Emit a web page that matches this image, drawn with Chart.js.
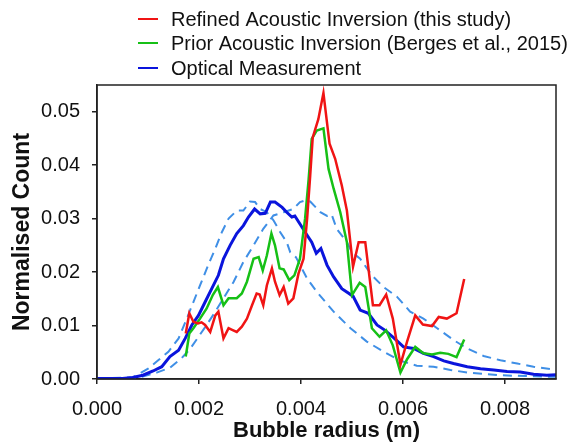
<!DOCTYPE html>
<html>
<head>
<meta charset="utf-8">
<script src="https://cdn.jsdelivr.net/npm/chart.js@4/dist/chart.umd.min.js"></script>
<style>
  html, body { margin: 0; padding: 0; background: #fff; }
  #wrap { width: 574px; height: 442px; }
</style>
</head>
<body>
<div id="wrap"><canvas id="chart" width="574" height="442"></canvas></div>
<script>
// ── data ────────────────────────────────────────────────────
const refinedX = [0.00174,0.00181,0.00189,0.00198,0.00205,0.00212,0.00222,0.00232,0.00238,0.00248,0.00258,0.00265,0.00274,0.00284,0.00294,0.00304,0.00313,0.00319,0.00326,0.00333,0.00343,0.00349,0.00358,0.00366,0.00375,0.00385,0.00395,0.00405,0.00412,0.00418,0.00423,0.00434,0.00444,0.00456,0.00467,0.0048,0.0049,0.00502,0.00513,0.00526,0.00541,0.00554,0.00567,0.0058,0.00595,0.00608,0.00624,0.00639,0.00657,0.0067,0.00686,0.00705,0.0072];
const refinedY = [0.0085,0.0123,0.0107,0.0104,0.0106,0.0101,0.0088,0.0119,0.0126,0.0076,0.0095,0.0092,0.0088,0.0098,0.0113,0.0138,0.016,0.0158,0.0138,0.0175,0.0207,0.0182,0.0157,0.0172,0.0141,0.0151,0.0197,0.0225,0.030,0.038,0.0452,0.0486,0.0535,0.044,0.0412,0.0362,0.0315,0.021,0.0256,0.0256,0.0138,0.0138,0.0158,0.0113,0.0027,0.007,0.0119,0.0102,0.0099,0.0116,0.0113,0.0123,0.0187];

const priorX = [0.00174,0.00181,0.00189,0.00202,0.00215,0.00227,0.00237,0.00248,0.00258,0.00274,0.00284,0.00294,0.00307,0.00317,0.00325,0.00333,0.00342,0.00349,0.00358,0.00366,0.00377,0.00387,0.00398,0.00408,0.00415,0.00421,0.00431,0.00444,0.00454,0.00464,0.00477,0.0049,0.005,0.00515,0.00526,0.00539,0.00554,0.00567,0.0058,0.00595,0.00608,0.00624,0.0064,0.00657,0.00673,0.00689,0.00705,0.0072];
const priorY = [0.0042,0.0085,0.0095,0.0113,0.0132,0.0157,0.0172,0.0138,0.0151,0.0151,0.016,0.0182,0.0225,0.0228,0.0203,0.0231,0.0272,0.025,0.0207,0.0205,0.0185,0.0194,0.0225,0.030,0.0374,0.0449,0.0465,0.0469,0.0393,0.0356,0.0312,0.0256,0.0157,0.018,0.0172,0.0095,0.0079,0.0091,0.0063,0.0012,0.0037,0.006,0.0048,0.0046,0.0049,0.0047,0.0041,0.0074];

const opticalX = [0,0.0005,0.0007,0.0009,0.0011,0.00127,0.00143,0.0016,0.00173,0.00186,0.00199,0.00212,0.00225,0.00238,0.00248,0.00261,0.00274,0.00287,0.00297,0.00309,0.0032,0.0033,0.0034,0.00349,0.00363,0.00372,0.00382,0.00388,0.00398,0.00412,0.00421,0.0043,0.00439,0.00451,0.00464,0.0048,0.00502,0.00516,0.00532,0.00549,0.00565,0.00582,0.00601,0.00621,0.0064,0.0066,0.0068,0.00699,0.00726,0.00752,0.00778,0.00804,0.0083,0.00856,0.00882,0.009];
const opticalY = [0.0001,0.0001,0.0003,0.0007,0.0015,0.0023,0.0042,0.0054,0.0076,0.0101,0.0119,0.0144,0.0169,0.0194,0.0225,0.025,0.0272,0.0287,0.0303,0.0318,0.0309,0.031,0.0331,0.0331,0.0321,0.0312,0.0303,0.0305,0.029,0.0269,0.0256,0.0235,0.0244,0.0213,0.0191,0.0169,0.0155,0.0129,0.0123,0.0101,0.0091,0.0077,0.006,0.0057,0.0048,0.0042,0.0034,0.0029,0.0023,0.0019,0.0017,0.0014,0.0013,0.0009,0.0007,0.0008];

const lowerBandX = [0,0.0007,0.00101,0.0012,0.0014,0.0016,0.00176,0.00189,0.00202,0.00218,0.00232,0.00245,0.00258,0.00274,0.00287,0.003,0.0031,0.0032,0.00333,0.00346,0.00359,0.00372,0.00379,0.0039,0.00412,0.00431,0.00464,0.00497,0.00529,0.00562,0.00595,0.00627,0.0066,0.00693,0.00726,0.00791,0.00856,0.009];
const lowerBandY = [0.0001,0.0003,0.002,0.0035,0.0051,0.0076,0.0113,0.0144,0.0175,0.0213,0.0244,0.0275,0.030,0.0315,0.0315,0.0332,0.0331,0.0318,0.0312,0.0297,0.0275,0.0256,0.0237,0.0228,0.0188,0.0163,0.0126,0.0095,0.007,0.0051,0.0034,0.0025,0.0023,0.0017,0.0012,0.0007,0.0005,0.0004];

const upperBandX = [0,0.0008,0.00117,0.00143,0.00166,0.00183,0.00199,0.00215,0.00232,0.00248,0.00268,0.00287,0.00307,0.00326,0.00346,0.00366,0.00385,0.00398,0.00408,0.00418,0.00438,0.00451,0.0046,0.0047,0.0049,0.005,0.00516,0.00539,0.00562,0.00588,0.00614,0.0064,0.00667,0.00699,0.00726,0.00758,0.00791,0.00824,0.00856,0.009];
const upperBandY = [0.0001,0.0002,0.0012,0.0021,0.0039,0.0057,0.0079,0.0101,0.0126,0.0151,0.0182,0.0219,0.025,0.0281,0.0306,0.0312,0.0318,0.0331,0.0334,0.0332,0.0312,0.0305,0.0308,0.0281,0.0256,0.0237,0.0225,0.0194,0.0172,0.0154,0.0126,0.0113,0.0095,0.0073,0.0057,0.0043,0.0035,0.0029,0.0023,0.0017];

const legendLabels = [
  'Refined Acoustic Inversion (this study)',
  'Prior Acoustic Inversion (Berges et al., 2015)',
  'Optical Measurement'
];

const FONT = "'Liberation Sans', Arial, sans-serif";
const RED = '#f01414', GREEN = '#16c016', BLUE = '#0a14dc', DASH = '#3f8fe6';

function pts(xs, ys) { return xs.map((x, i) => ({ x, y: ys[i] })); }

// frame + stacked legend
const framePlugin = {
  id: 'frame',
  afterDraw(chart) {
    const { ctx, chartArea: a } = chart;
    ctx.save();
    ctx.strokeStyle = '#222';
    ctx.lineWidth = 1.5;
    ctx.strokeRect(a.left, a.top, a.right - a.left, a.bottom - a.top);

    const rows = [19, 43, 68];
    ctx.font = '20px ' + FONT;
    ctx.textBaseline = 'middle';
    ctx.fillStyle = '#111';
    legendLabels.forEach((txt, i) => {
      const ds = chart.data.datasets[i];
      ctx.strokeStyle = ds.borderColor;
      ctx.lineWidth = 2;
      ctx.beginPath();
      ctx.moveTo(138, rows[i]);
      ctx.lineTo(158, rows[i]);
      ctx.stroke();
      ctx.fillText(txt, 171, rows[i] + 1);
    });
    ctx.restore();
  }
};

const lineDs = (data, color, width, dash) => ({
  data, borderColor: color, borderWidth: width, borderDash: dash || [],
  pointRadius: 0, tension: 0, fill: false
});

new Chart(document.getElementById('chart').getContext('2d'), {
  type: 'line',
  data: {
    datasets: [
      lineDs(pts(refinedX, refinedY), RED, 2.5),
      lineDs(pts(priorX, priorY), GREEN, 2.5),
      lineDs(pts(opticalX, opticalY), BLUE, 3),
      lineDs(pts(lowerBandX, lowerBandY), DASH, 2, [9, 6]),
      lineDs(pts(upperBandX, upperBandY), DASH, 2, [9, 6])
    ]
  },
  options: {
    responsive: false,
    animation: false,
    layout: { padding: { top: 85, right: 18, left: 0, bottom: 0 } },
    plugins: { legend: { display: false }, tooltip: { enabled: false } },
    scales: {
      x: {
        type: 'linear', min: 0, max: 0.009,
        afterFit: s => { s.height = 63; },
        ticks: { stepSize: 0.002, includeBounds: false, padding: 13, color: '#111', maxRotation: 0,
                 font: { family: FONT, size: 20 }, callback: v => v.toFixed(3) },
        grid: { drawOnChartArea: false, tickLength: 5, color: '#222', lineWidth: 1.5 },
        border: { display: true, color: '#222', width: 1.5 },
        title: { display: true, text: 'Bubble radius (m)', color: '#111', padding: { top: 0, bottom: 0 },
                 font: { family: FONT, size: 22, weight: 'bold', lineHeight: 1.0 } }
      },
      y: {
        type: 'linear', min: 0, max: 0.055,
        afterFit: s => { s.width = 97; },
        ticks: { stepSize: 0.01, includeBounds: false, padding: 12, color: '#111',
                 font: { family: FONT, size: 20 }, callback: v => v.toFixed(2) },
        grid: { drawOnChartArea: false, tickLength: 5, color: '#222', lineWidth: 1.5 },
        border: { display: true, color: '#222', width: 1.5 },
        title: { display: true, text: 'Normalised Count', color: '#111', padding: { top: 9, bottom: 0 },
                 font: { family: FONT, size: 23, weight: 'bold', lineHeight: 1.2 } }
      }
    }
  },
  plugins: [framePlugin]
});
</script>
</body>
</html>
